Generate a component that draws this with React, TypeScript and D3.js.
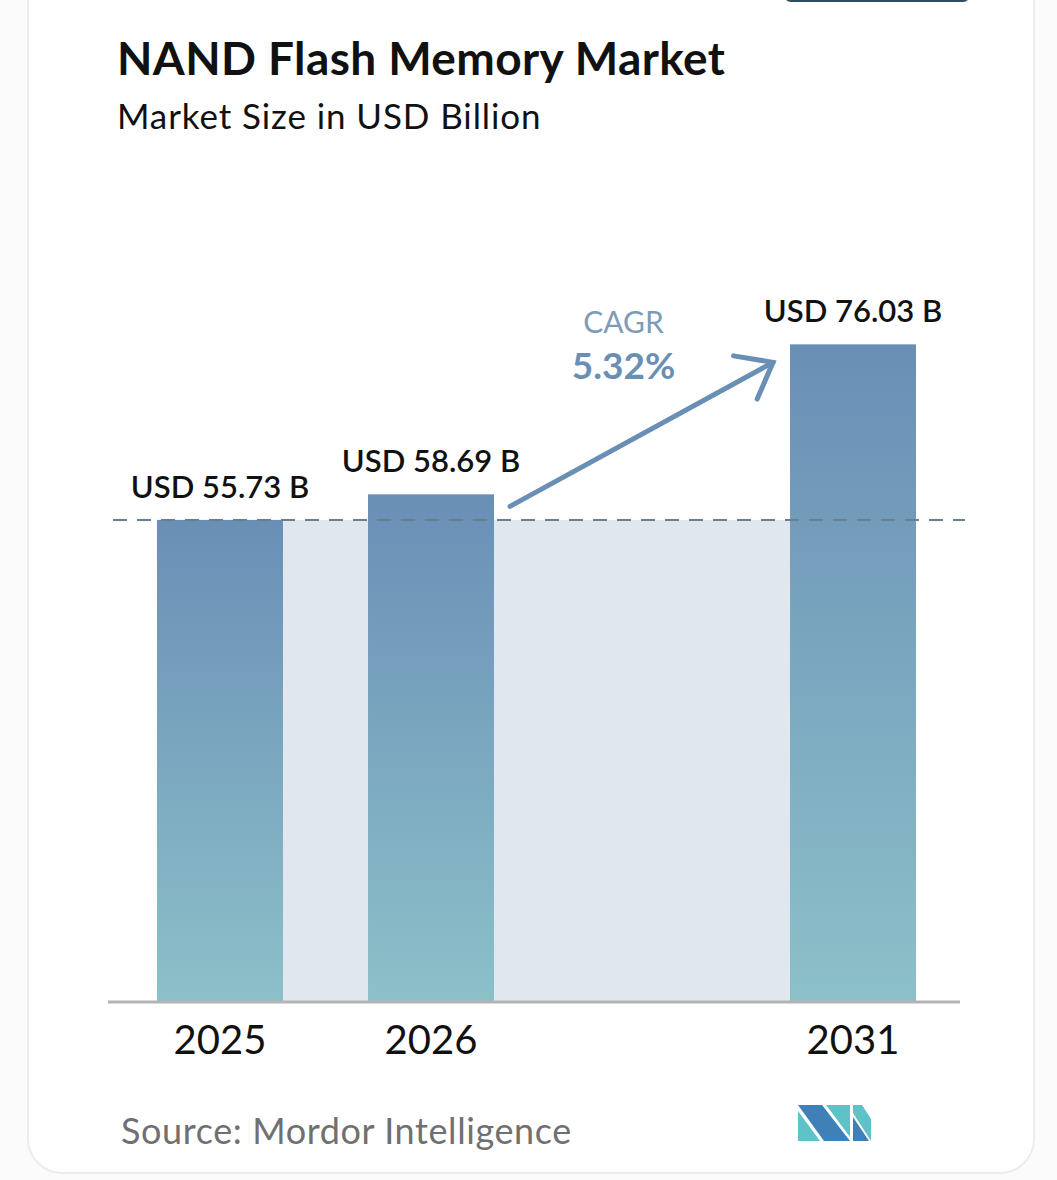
import React from "react";
import * as d3 from "d3";

// Market size by year (USD billion)
const slots = ["2025", "2026", "gap", "2031"];
const years = ["2025", "2026", "2031"];
const values = [55.73, 58.69, 76.03];
const valueLabels = ["USD 55.73 B", "USD 58.69 B", "USD 76.03 B"];
const cagrLabel = "CAGR";
const cagrValue = "5.32%";

const W = 1057;
const H = 1180;
const FONT = "Lato, 'Noto Sans', sans-serif";

export default function App() {
  const x = d3
    .scaleBand<string>()
    .domain(slots)
    .range([114.5, 958.5])
    .paddingInner(0.403)
    .paddingOuter(0.2015);
  const y = d3.scaleLinear().domain([0, 80]).range([1002, 310]);
  const bw = x.bandwidth();

  const refY = y(values[0]);
  const x25 = x("2025")!;
  const x26 = x("2026")!;
  const x31 = x("2031")!;

  // CAGR arrow from the 2026 bar toward the 2031 bar
  const ax0 = x26 + bw + 16;
  const ay0 = y(values[1]) + 12;
  const ax1 = x31 - 17;
  const ay1 = y(values[2]) + 18;
  const ang = Math.atan2(ay1 - ay0, ax1 - ax0);
  const headLen = 40;
  const spread = (38 * Math.PI) / 180;
  const h1 = [ax1 - headLen * Math.cos(ang - spread), ay1 - headLen * Math.sin(ang - spread)];
  const h2 = [ax1 - headLen * Math.cos(ang + spread), ay1 - headLen * Math.sin(ang + spread)];

  const cagrX = (ax0 + ax1) / 2 - 18;

  return (
    <svg
      width={W}
      height={H}
      viewBox={`0 0 ${W} ${H}`}
      style={{ position: "absolute", left: 0, top: 0, background: "#fbfbfb" }}
    >
      <defs>
        <linearGradient id="barGrad" x1="0" y1="0" x2="0" y2="1" gradientUnits="objectBoundingBox">
          <stop offset="0" stopColor="#6a8fb6" />
          <stop offset="1" stopColor="#8cc0c9" />
        </linearGradient>
      </defs>

      {/* card */}
      <rect x={28} y={-40} width={1006} height={1213} rx={34} fill="#ffffff" stroke="#ececec" strokeWidth={2} />
      {/* top tab */}
      <rect x={784} y={-12} width={186} height={14} rx={7} fill="#2f4f5e" />

      {/* heading */}
      <text x={117} y={75} fontFamily={FONT} fontWeight={700} fontSize={46} letterSpacing={0.4} fill="#111">
        NAND Flash Memory Market
      </text>
      <text x={117} y={129} fontFamily={FONT} fontWeight={400} fontSize={35} letterSpacing={0.9} fill="#111">
        Market Size in USD Billion
      </text>

      {/* shaded band at the base-year level */}
      <rect x={x25} y={refY} width={x31 + bw - x25} height={y(0) - refY} fill="#e1e7ef" />

      {/* bars */}
      {years.map((yr, i) => (
        <rect
          key={yr}
          x={x(yr)!}
          y={y(values[i])}
          width={bw}
          height={y(0) - y(values[i])}
          fill="url(#barGrad)"
        />
      ))}

      {/* base-year reference line */}
      <line
        x1={113}
        x2={965}
        y1={refY}
        y2={refY}
        stroke="#6b7f92"
        strokeWidth={2}
        strokeDasharray="14 10"
      />

      {/* baseline */}
      <line x1={108} x2={960} y1={y(0)} y2={y(0)} stroke="#b3b3b3" strokeWidth={3} />

      {/* value labels */}
      {years.map((yr, i) => (
        <text
          key={yr}
          x={x(yr)! + bw / 2}
          y={y(values[i]) - 22}
          textAnchor="middle"
          fontFamily={FONT}
          fontWeight={600}
          fontSize={31}
          fill="#111"
        >
          {valueLabels[i]}
        </text>
      ))}

      {/* year labels */}
      {years.map((yr) => (
        <text
          key={yr}
          x={x(yr)! + bw / 2}
          y={1054}
          textAnchor="middle"
          fontFamily={FONT}
          fontWeight={400}
          fontSize={40}
          fill="#111"
        >
          {yr}
        </text>
      ))}

      {/* CAGR arrow */}
      <g stroke="#6a8fb5" strokeWidth={5} strokeLinecap="round" fill="none">
        <line x1={ax0} y1={ay0} x2={ax1} y2={ay1} />
        <polyline points={`${h1[0]},${h1[1]} ${ax1},${ay1} ${h2[0]},${h2[1]}`} strokeLinejoin="miter" />
      </g>
      <text x={cagrX} y={333} textAnchor="middle" fontFamily={FONT} fontWeight={400} fontSize={30} fill="#7e9cb8">
        {cagrLabel}
      </text>
      <text x={cagrX} y={379} textAnchor="middle" fontFamily={FONT} fontWeight={700} fontSize={37} fill="#6a8fb5">
        {cagrValue}
      </text>

      {/* source */}
      <text x={121} y={1144} fontFamily={FONT} fontWeight={400} fontSize={36} letterSpacing={0.6} fill="#707070">
        Source: Mordor Intelligence
      </text>

      {/* logo */}
      <g transform="translate(798,1105)">
        <polygon points="0,0 24,0 52,36 26,36 0,0" fill="#3f80b8" />
        <polygon points="0,6 0,36 22,36" fill="#5fc2c9" />
        <polygon points="28,0 52,0 52,32" fill="#5fc2c9" />
        <polygon points="55,0 64,0 73,14 73,36 55,8" fill="#5fc2c9" />
        <polygon points="55,12 55,36 71,36" fill="#3f80b8" />
      </g>
    </svg>
  );
}
